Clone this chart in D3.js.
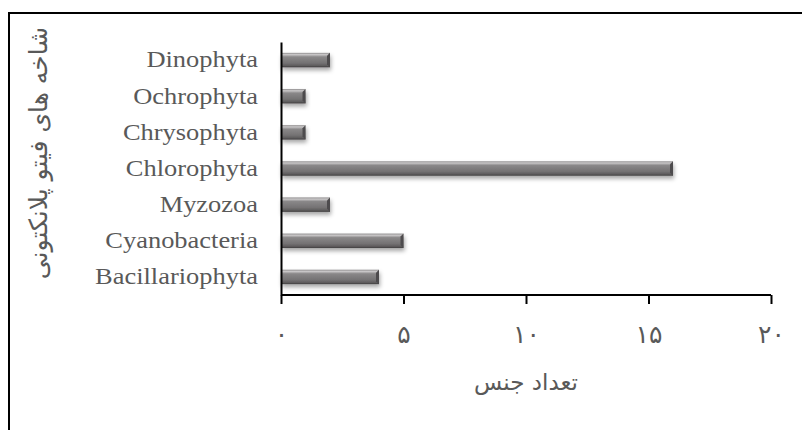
<!DOCTYPE html>
<html>
<head>
<meta charset="utf-8">
<script src="https://cdn.jsdelivr.net/npm/d3@7"></script>
<style>
  body { margin: 0; background: #fff; }
  svg { display: block; }
</style>
</head>
<body>
<div id="chart"></div>
<script>
	// data
	var categories = ["Dinophyta", "Ochrophyta", "Chrysophyta", "Chlorophyta", "Myzozoa", "Cyanobacteria", "Bacillariophyta"];
	var counts = [2, 1, 1, 16, 2, 5, 4];
	var tickValues = [0, 5, 10, 15, 20];
	var tickLabels = ["۰", "۵", "۱۰", "۱۵", "۲۰"];
	var xTitle = "تعداد جنس";
	var yTitle = "شاخه های فیتو پلانکتونی";

	var width = 802, height = 430;
	var margin = { left: 281, right: 31, top: 42, bottom: 135 };
	var plotW = width - margin.left - margin.right,
		plotH = height - margin.top - margin.bottom;

	var svg = d3.select("#chart")
		.append("svg")
			.attr("width", width)
			.attr("height", height);

	// chart frame
	svg.append("path")
		.attr("d", "M9,430 V13 H802")
		.attr("fill", "none")
		.attr("stroke", "#000")
		.attr("stroke-width", 2);

	var defs = svg.append("defs");
	var grad = defs.append("linearGradient")
		.attr("id", "barGrad")
		.attr("x1", 0).attr("y1", 0).attr("x2", 0).attr("y2", 1);
	[["0%", "#8f8d8e"], ["12%", "#c9c7c8"], ["28%", "#8a8889"], ["70%", "#747273"], ["88%", "#5f5d5e"], ["100%", "#3f3d3e"]]
		.forEach(function(s) {
			grad.append("stop").attr("offset", s[0]).attr("stop-color", s[1]);
		});
	var shadow = defs.append("filter")
		.attr("id", "shadow")
		.attr("x", "-10%").attr("y", "-50%").attr("width", "130%").attr("height", "250%");
	shadow.append("feDropShadow")
		.attr("dx", 1).attr("dy", 3)
		.attr("stdDeviation", 2)
		.attr("flood-color", "#000")
		.attr("flood-opacity", 0.35);

	var g = svg.append("g")
		.attr("transform", "translate(" + margin.left + "," + margin.top + ")");

	var x = d3.scaleLinear()
		.domain([0, 20])
		.range([0, plotW]);
	var y = d3.scaleBand()
		.domain(categories)
		.range([0, plotH])
		.paddingInner(0.6)
		.paddingOuter(0.3);

	// bars
	var rows = categories.map(function(c, i) { return { name: c, value: counts[i] }; });
	var bars = g.selectAll(".bar")
		.data(rows)
		.enter().append("g")
			.attr("class", "bar")
			.attr("filter", "url(#shadow)");

	bars.append("rect")
		.attr("x", 0)
		.attr("y", function(d) { return y(d.name); })
		.attr("width", function(d) { return x(d.value); })
		.attr("height", y.bandwidth())
		.attr("fill", "url(#barGrad)");

	// bevel at the bar end
	bars.append("path")
		.attr("d", function(d) {
			var x1 = x(d.value), y0 = y(d.name), h = y.bandwidth(), b = 3;
			return "M" + (x1 - b) + "," + (y0 + b) + " L" + x1 + "," + y0 +
				" L" + x1 + "," + (y0 + h) + " L" + (x1 - b) + "," + (y0 + h - b) + "Z";
		})
		.attr("fill", "#4e4c4d");

	// x axis
	var xAxis = g.append("g")
		.attr("transform", "translate(0," + plotH + ")")
		.call(d3.axisBottom(x)
			.tickValues(tickValues)
			.tickSize(9)
			.tickPadding(21)
			.tickFormat(function(d, i) { return tickLabels[i]; }));
	xAxis.select(".domain").attr("stroke", "#000").attr("stroke-width", 2)
		.attr("d", "M0,0H" + plotW);
	xAxis.selectAll(".tick line").attr("stroke", "#000").attr("stroke-width", 2);
	xAxis.selectAll(".tick text")
		.attr("fill", "#595959")
		.attr("font-family", "DejaVu Sans")
		.attr("font-size", "25px");

	// y axis
	var yAxis = g.append("g")
		.call(d3.axisLeft(y).tickSize(0).tickPadding(24));
	yAxis.select(".domain").attr("stroke", "#000").attr("stroke-width", 2);
	yAxis.selectAll(".tick text")
		.attr("fill", "#595959")
		.attr("font-family", "Liberation Serif")
		.attr("font-size", "23px")
		.attr("transform", "scale(1.15,1)")
		.attr("x", -23 / 1.15);

	// axis titles
	svg.append("text")
		.attr("x", margin.left + plotW / 2)
		.attr("y", 390)
		.attr("text-anchor", "middle")
		.attr("fill", "#595959")
		.attr("font-family", "DejaVu Sans")
		.attr("font-size", "23px")
		.text(xTitle);

	svg.append("text")
		.attr("transform", "translate(47,153) rotate(-90)")
		.attr("text-anchor", "middle")
		.attr("fill", "#595959")
		.attr("font-family", "DejaVu Sans")
		.attr("font-size", "25px")
		.text(yTitle);
</script>
</body>
</html>
